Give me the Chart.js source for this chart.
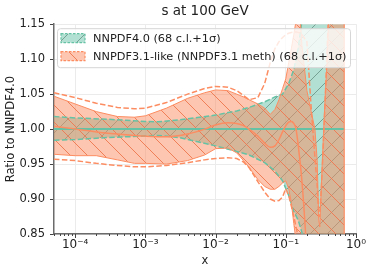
<!DOCTYPE html>
<html>
<head>
<meta charset="utf-8">
<script src="https://cdn.jsdelivr.net/npm/chart.js@4.4.1/dist/chart.umd.min.js"></script>
<style>
  html, body { margin: 0; padding: 0; background: #fff; }
</style>
</head>
<body>
<canvas id="chart" width="374" height="275"></canvas>
<script>
var FONT = '"DejaVu Sans", sans-serif';
var GREEN = '#66c2a5';
var ORANGE = '#fc8d62';

// x axis decades
var xMajorTicks = [1e-4, 1e-3, 1e-2, 1e-1, 1];
var xMajorLabels = ['10\u207B\u2074', '10\u207B\u00B3', '10\u207B\u00B2', '10\u207B\u00B9', '10\u2070'];

// NNPDF4.0 band (68 c.l. / 1 sigma), ratio to itself
var xGreen = [5e-5, 1e-4, 3e-4, 1e-3, 1.5e-3, 3e-3, 1e-2, 2e-2, 3e-2, 5e-2, 7e-2, 0.09, 0.11, 0.13, 0.15, 0.17, 0.2, 0.25, 0.68];
var greenUp = [1.018, 1.016, 1.014, 1.011, 1.0105, 1.013, 1.02, 1.026, 1.031, 1.039, 1.046, 1.05, 1.065, 1.085, 1.115, 1.155, 1.3, 1.5, 1.5];
var greenLo = [0.984, 0.985, 0.988, 0.990, 0.991, 0.988, 0.976, 0.968, 0.963, 0.952, 0.94, 0.926, 0.905, 0.882, 0.87, 0.852, 0.75, 0.5, 0.5];
var xGreenCentral = [5e-5, 0.68];
var greenCentral = [1, 1];

// NNPDF3.1-like
var xOrange = [5e-5, 1e-4, 2e-4, 4e-4, 7e-4, 1e-3, 2e-3, 4e-3, 7e-3, 1e-2, 1.5e-2, 2e-2, 2.5e-2, 3e-2, 4e-2, 5e-2, 6e-2, 7e-2, 8e-2, 9e-2,
  0.1, 0.11, 0.12, 0.13, 0.14, 0.155, 0.17, 0.2, 0.23, 0.26, 0.28, 0.295, 0.305, 0.33, 0.35, 0.37, 0.39, 0.42, 0.5, 0.6, 0.68];
var orangeCl68Up = [1.047, 1.036, 1.025, 1.018, 1.017, 1.019, 1.03, 1.044, 1.052, 1.056, 1.055, 1.05, 1.046, 1.042, 1.036, 1.03, 1.021, 1.028, 1.042, 1.058,
  1.072, 1.095, 1.115, 1.135, 1.155, 1.18, 1.12, 1.055, 1.025, 1.0, 0.955, 0.87, 0.86, 0.95, 1.01, 1.06, 1.1, 1.2, 1.3, 1.3, 1.3];
var orangeCl68Lo = [0.964, 0.962, 0.962, 0.956, 0.951, 0.951, 0.95, 0.955, 0.963, 0.972, 0.973, 0.966, 0.955, 0.945, 0.928, 0.918, 0.914, 0.914, 0.918, 0.923,
  0.926, 0.915, 0.895, 0.865, 0.84, 0.8, 0.7, 0.7, 0.7, 0.7, 0.7, 0.7, 0.7, 0.7, 0.7, 0.7, 0.7, 0.7, 0.7, 0.7, 0.7];
var orangeSigUp = [1.052, 1.045, 1.037, 1.031, 1.029, 1.03, 1.038, 1.05, 1.058, 1.061, 1.06, 1.055, 1.048, 1.042, 1.045, 1.065, 1.095, 1.115, 1.125, 1.131,
  1.135, 1.137, 1.138, 1.139, 1.139, 1.138, 1.135, 1.125, 1.03, 0.96, 0.92, 0.875, 0.875, 0.94, 1.0, 1.06, 1.12, 1.2, 1.3, 1.3, 1.3];
var orangeSigLo = [0.957, 0.955, 0.951, 0.948, 0.946, 0.946, 0.948, 0.952, 0.956, 0.958, 0.959, 0.958, 0.953, 0.945, 0.925, 0.91, 0.9, 0.897, 0.898, 0.903,
  0.915, 0.905, 0.89, 0.875, 0.86, 0.84, 0.7, 0.7, 0.7, 0.7, 0.7, 0.7, 0.7, 0.7, 0.7, 0.7, 0.7, 0.7, 0.7, 0.7, 0.7];
var orangeCentral = [1.004, 1.0, 0.996, 0.993, 0.991, 0.99, 0.989, 0.993, 1.0, 1.006, 1.009, 1.008, 1.005, 1.0, 0.99, 0.98, 0.974, 0.976, 0.985, 0.996,
  1.005, 1.01, 1.011, 1.008, 1.0, 0.965, 0.925, 0.82, 0.7, 0.7, 0.7, 0.7, 0.7, 0.7, 0.7, 0.7, 0.7, 0.7, 0.7, 0.7, 0.7];

function pts(xs, ys) {
  return xs.map(function(x, i) { return {x: x, y: ys[i]}; });
}

function isMajor(v) {
  var l = Math.log10(v);
  return Math.abs(l - Math.round(l)) < 1e-9;
}

// hatched fill like matplotlib's hatch='//' and '\\'
function makeHatch(fill, line, dir) {
  var s = 17;
  var c = document.createElement('canvas');
  c.width = s; c.height = s;
  var g = c.getContext('2d');
  g.fillStyle = fill;
  g.fillRect(0, 0, s, s);
  g.strokeStyle = line;
  g.lineWidth = 1;
  g.beginPath();
  if (dir === '/') {
    g.moveTo(-1, s + 1); g.lineTo(s + 1, -1);
    g.moveTo(-1, 1); g.lineTo(1, -1);
    g.moveTo(s - 1, s + 1); g.lineTo(s + 1, s - 1);
  } else {
    g.moveTo(-1, -1); g.lineTo(s + 1, s + 1);
    g.moveTo(s - 1, -1); g.lineTo(s + 1, 1);
    g.moveTo(-1, s - 1); g.lineTo(1, s + 1);
  }
  g.stroke();
  return g.createPattern(c, 'repeat');
}

var greenHatch = makeHatch('rgba(102,194,165,0.5)', 'rgba(70,110,95,0.55)', '/');
var orangeHatch = makeHatch('rgba(252,141,98,0.5)', 'rgba(240,120,80,0.9)', '\\');

var legendItems = [
  {label: 'NNPDF4.0 (68 c.l.+1\u03C3)', color: GREEN, pattern: greenHatch},
  {label: 'NNPDF3.1-like (NNPDF3.1 meth) (68 c.l.+1\u03C3)', color: ORANGE, pattern: orangeHatch}
];

var xTickMarks = {
  id: 'xTickMarks',
  afterDraw: function(chart) {
    var s = chart.scales.x, ctx = chart.ctx;
    ctx.save();
    ctx.strokeStyle = '#444';
    ctx.lineWidth = 1;
    s.ticks.forEach(function(t) {
      var px = Math.round(s.getPixelForValue(t.value)) + 0.5;
      var len = isMajor(t.value) ? 4 : 2;
      ctx.beginPath();
      ctx.moveTo(px, s.top);
      ctx.lineTo(px, s.top + len);
      ctx.stroke();
    });
    ctx.restore();
  }
};

var legendBox = {
  id: 'legendBox',
  afterDraw: function(chart) {
    var ctx = chart.ctx, ca = chart.chartArea;
    var x0 = ca.left + 3, y0 = ca.top + 4, w = 293, h = 39;
    ctx.save();
    ctx.beginPath();
    ctx.roundRect(x0 + 0.5, y0 + 0.5, w, h, 3);
    ctx.fillStyle = 'rgba(255,255,255,0.8)';
    ctx.fill();
    ctx.strokeStyle = '#d6d6d6';
    ctx.lineWidth = 1;
    ctx.stroke();
    ctx.font = '11.3px ' + FONT;
    ctx.textBaseline = 'middle';
    legendItems.forEach(function(it, i) {
      var cy = y0 + 10 + i * 18;
      ctx.fillStyle = '#fff';
      ctx.fillRect(x0 + 4, cy - 4.5, 24, 9);
      ctx.fillStyle = it.pattern;
      ctx.fillRect(x0 + 4, cy - 4.5, 24, 9);
      ctx.setLineDash([2.5, 1.5]);
      ctx.strokeStyle = it.color;
      ctx.lineWidth = 1.2;
      ctx.strokeRect(x0 + 4, cy - 4.5, 24, 9);
      ctx.setLineDash([]);
      ctx.fillStyle = '#222';
      ctx.fillText(it.label, x0 + 36, cy + 0.5);
    });
    ctx.restore();
  }
};

// all tick positions on the log axis: majors plus 2..9 in each decade
var xTickValues = [];
for (var e = -5; e <= -1; e++) {
  for (var m = 1; m <= 9; m++) {
    var v = m * Math.pow(10, e);
    if (v >= 5e-5 - 1e-12) xTickValues.push(v);
  }
}
xTickValues.push(1);

var lastO = xOrange.length - 1;

new Chart(document.getElementById('chart'), {
  type: 'line',
  data: {
    datasets: [
      { data: pts(xOrange, orangeCentral), borderColor: ORANGE, borderWidth: 1.5, cubicInterpolationMode: 'monotone', fill: false },
      { data: [{x: xOrange[lastO], y: orangeCl68Lo[lastO]}, {x: xOrange[lastO], y: orangeCl68Up[lastO]}], borderColor: ORANGE, borderWidth: 1.2, fill: false },
      { data: pts(xOrange, orangeSigUp), borderColor: ORANGE, borderWidth: 1.5, borderDash: [5.5, 2.4], fill: false },
      { data: pts(xOrange, orangeSigLo), borderColor: ORANGE, borderWidth: 1.5, borderDash: [5.5, 2.4], fill: false },
      { data: pts(xOrange, orangeCl68Up), borderColor: ORANGE, borderWidth: 1, backgroundColor: orangeHatch, fill: '+1' },
      { data: pts(xOrange, orangeCl68Lo), borderColor: ORANGE, borderWidth: 1, fill: false },
      { data: pts(xGreenCentral, greenCentral), borderColor: GREEN, borderWidth: 2, fill: false },
      { data: pts(xGreen, greenUp), borderColor: GREEN, borderWidth: 1.5, borderDash: [5.5, 2.4], backgroundColor: greenHatch, fill: '+1' },
      { data: pts(xGreen, greenLo), borderColor: GREEN, borderWidth: 1.5, borderDash: [5.5, 2.4], fill: false }
    ]
  },
  options: {
    responsive: false,
    devicePixelRatio: 1,
    animation: false,
    events: [],
    elements: { point: { radius: 0 }, line: { tension: 0 } },
    layout: { padding: { left: 0, right: 18, top: 0, bottom: 0 } },
    plugins: {
      legend: { display: false },
      tooltip: { enabled: false },
      filler: { drawTime: 'beforeDatasetsDraw' },
      title: {
        display: true,
        fullSize: false,
        text: 's at 100 GeV',
        color: '#222',
        font: { family: FONT, size: 13.5, weight: 'normal' },
        padding: { top: 3, bottom: 5 }
      }
    },
    scales: {
      x: {
        type: 'logarithmic',
        min: 5e-5,
        max: 1,
        afterBuildTicks: function(s) {
          s.ticks = xTickValues.map(function(v) { return {value: v, major: isMajor(v)}; });
        },
        afterFit: function(s) { s.height = 41; },
        ticks: {
          autoSkip: false,
          maxRotation: 0,
          padding: 4,
          color: '#222',
          font: { family: FONT, size: 12 },
          callback: function(value) {
            for (var i = 0; i < xMajorTicks.length; i++) {
              if (Math.abs(Math.log10(value) - Math.log10(xMajorTicks[i])) < 1e-9) return xMajorLabels[i];
            }
            return '';
          }
        },
        grid: {
          drawTicks: false,
          color: function(c) { return c.tick && isMajor(c.tick.value) ? '#ebebeb' : 'rgba(0,0,0,0)'; }
        },
        border: { color: '#6b6b6b', width: 1.5 },
        title: { display: true, text: 'x', color: '#222', font: { family: FONT, size: 11.5 }, padding: { top: 0, bottom: 7 } }
      },
      y: {
        min: 0.85,
        max: 1.15,
        afterFit: function(s) { s.width = 54; },
        ticks: {
          stepSize: 0.05,
          padding: 5,
          color: '#222',
          font: { family: FONT, size: 11.5 },
          callback: function(v) { return v.toFixed(2); }
        },
        grid: { color: '#ebebeb', tickColor: '#444', tickLength: 4 },
        border: { color: '#6b6b6b', width: 1.5 },
        title: { display: true, text: 'Ratio to NNPDF4.0', color: '#222', font: { family: FONT, size: 11.5 }, padding: { top: 4, bottom: 2 } }
      }
    }
  },
  plugins: [xTickMarks, legendBox]
});
</script>
</body>
</html>
